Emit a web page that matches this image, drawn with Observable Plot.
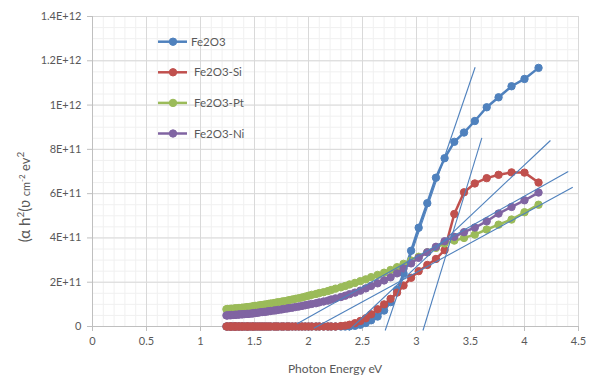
<!DOCTYPE html>
<html><head><meta charset="utf-8">
<script src="https://cdn.jsdelivr.net/npm/d3@7"></script>
<script src="https://cdn.jsdelivr.net/npm/@observablehq/plot@0.6"></script>
<style>
body{margin:0;background:#fff;}
#chart svg{display:block;}
</style>
</head><body><div id="chart"></div>
<script>
// Photon energy (eV) of each measured point
const energy = [4.13,4.00,3.88,3.76,3.65,3.54,3.44,3.35,3.26,3.18,3.10,3.02,2.95,2.88,2.82,2.76,2.70,2.64,2.58,2.53,2.48,2.43,2.38,2.34,2.30,2.25,2.21,2.18,2.14,2.10,2.07,2.03,2.00,1.97,1.94,1.91,1.88,1.85,1.82,1.80,1.77,1.75,1.72,1.70,1.68,1.65,1.63,1.61,1.59,1.57,1.55,1.53,1.51,1.49,1.48,1.46,1.44,1.43,1.41,1.39,1.38,1.36,1.35,1.33,1.32,1.31,1.29,1.28,1.27,1.25,1.24];
// Series values in units of 1E+12
const UNIT = 1e12;
const fe2o3 = [1.168,1.118,1.085,1.035,0.99,0.928,0.876,0.834,0.76,0.672,0.557,0.446,0.342,0.24,0.165,0.11,0.072,0.045,0.028,0.016,0.008,0.003,0.001,0,0,0,0,0,0,0,0,0,0,0,0,0,0,0,0,0,0,0,0,0,0,0,0,0,0,0,0,0,0,0,0,0,0,0,0,0,0,0,0,0,0,0,0,0,0,0,0];
const fe2o3Si = [0.65,0.695,0.696,0.685,0.67,0.646,0.606,0.508,0.345,0.305,0.278,0.25,0.22,0.185,0.153,0.125,0.1,0.078,0.055,0.037,0.025,0.015,0.008,0.004,0.002,0,0,0,0,0,0,0,0,0,0,0,0,0,0,0,0,0,0,0,0,0,0,0,0,0,0,0,0,0,0,0,0,0,0,0,0,0,0,0,0,0,0,0,0,0,0];
const fe2o3Pt = [0.55,0.516,0.483,0.46,0.438,0.415,0.40,0.388,0.375,0.355,0.335,0.315,0.298,0.283,0.268,0.255,0.243,0.233,0.223,0.213,0.205,0.197,0.19,0.183,0.177,0.171,0.165,0.160,0.155,0.151,0.147,0.143,0.139,0.135,0.131,0.128,0.125,0.122,0.119,0.116,0.114,0.112,0.110,0.108,0.106,0.104,0.102,0.100,0.099,0.097,0.096,0.094,0.093,0.092,0.090,0.089,0.088,0.087,0.086,0.085,0.084,0.083,0.083,0.082,0.081,0.081,0.080,0.080,0.079,0.079,0.078];
const fe2o3Ni = [0.605,0.57,0.54,0.51,0.475,0.447,0.426,0.405,0.385,0.36,0.335,0.31,0.285,0.262,0.24,0.222,0.208,0.195,0.183,0.172,0.162,0.153,0.146,0.139,0.133,0.127,0.122,0.117,0.113,0.109,0.105,0.102,0.099,0.096,0.093,0.090,0.088,0.085,0.083,0.081,0.079,0.077,0.075,0.073,0.072,0.070,0.069,0.067,0.066,0.065,0.064,0.062,0.061,0.060,0.059,0.058,0.057,0.057,0.056,0.055,0.055,0.054,0.054,0.053,0.053,0.052,0.052,0.051,0.051,0.050,0.050];
const seriesNames = ["Fe2O3","Fe2O3-Si","Fe2O3-Pt","Fe2O3-Ni"];
const seriesColors = ["#4F81BD","#C0504D","#9BBB59","#8064A2"];
// Tangent (Tauc extrapolation) lines: endpoints in data units (y in 1E+12)
const tangentX1 = [2.71, 3.06, 2.373, 1.895, 2.05];
const tangentY1 = [-0.018, -0.018, -0.018, 0.012, -0.008];
const tangentX2 = [3.543, 3.605, 4.24, 4.405, 4.447];
const tangentY2 = [1.171, 0.852, 0.84, 0.70, 0.629];
// Axes
const xTicks = [0,0.5,1,1.5,2,2.5,3,3.5,4,4.5];
const xTickLabels = ["0","0.5","1","1.5","2","2.5","3","3.5","4","4.5"];
const yTicks = [0,2e11,4e11,6e11,8e11,1e12,1.2e12,1.4e12];
const yTickLabels = ["0","2E+11","4E+11","6E+11","8E+11","1E+12","1.2E+12","1.4E+12"];
const xTitle = "Photon Energy eV";

const allSeries = [fe2o3, fe2o3Si, fe2o3Pt, fe2o3Ni];
const tables = allSeries.map((vals, s) => vals.map((v, i) => ({x: energy[i], y: v * UNIT, series: seriesNames[s]})));
const tangents = tangentX1.map((_, i) => ({x1: tangentX1[i], y1: tangentY1[i] * UNIT, x2: tangentX2[i], y2: tangentY2[i] * UNIT}));

const minorX = d3.range(0, 45.5, 1).map(d => d / 10);
const minorY = d3.range(0, 28.5, 1).map(d => d * 5e10);

const seriesMarks = tables.flatMap((t, s) => [
  Plot.line(t, {x: "x", y: "y", stroke: seriesColors[s], strokeWidth: 2.5}),
  Plot.dot(t, {x: "x", y: "y", r: 3.7, fill: seriesColors[s], stroke: seriesColors[s], strokeWidth: 1})
]);

const FONT = "Lato, 'Open Sans', sans-serif";
const chart = Plot.plot({
  width: 603, height: 378,
  marginLeft: 92, marginRight: 25, marginTop: 16, marginBottom: 52,
  x: {domain: [0, 4.5]},
  y: {domain: [0, 1.4e12]},
  style: {fontFamily: FONT, fontSize: "11px", color: "#595959", background: "#fff", overflow: "visible"},
  marks: [
    Plot.ruleX(minorX, {stroke: "#f0f0f0", strokeWidth: 1}),
    Plot.ruleY(minorY, {stroke: "#f0f0f0", strokeWidth: 1}),
    Plot.ruleX(xTicks, {stroke: "#d9d9d9", strokeWidth: 1}),
    Plot.ruleY(yTicks, {stroke: "#d9d9d9", strokeWidth: 1}),
    Plot.axisX({ticks: xTicks, tickFormat: d => xTickLabels[xTicks.indexOf(d)], tickSize: 5, tickPadding: 6, stroke: "#bfbfbf", strokeOpacity: 1, label: null, fill: "#595959"}),
    Plot.axisY({ticks: yTicks, tickFormat: d => yTickLabels[yTicks.indexOf(d)], tickSize: 5, tickPadding: 6, stroke: "#bfbfbf", strokeOpacity: 1, label: null, fill: "#595959"}),
    Plot.ruleX([0], {stroke: "#bfbfbf"}),
    Plot.ruleY([0], {stroke: "#bfbfbf"}),
    ...seriesMarks,
    Plot.link(tangents, {x1: "x1", y1: "y1", x2: "x2", y2: "y2", stroke: "#4F81BD", strokeWidth: 1.1})
  ]
});
document.getElementById("chart").append(chart);

const svg = d3.select(chart);
// Legend (inside plot area, upper-left)
const lg = svg.append("g").attr("font-family", FONT).attr("font-size", 11.5).attr("fill", "#595959").attr("text-anchor", "start");
seriesNames.forEach((name, i) => {
  const yy = 41.7 + i * 30.6;
  lg.append("line").attr("x1", 158).attr("x2", 187).attr("y1", yy).attr("y2", yy).attr("stroke", seriesColors[i]).attr("stroke-width", 2.5);
  lg.append("circle").attr("cx", 173).attr("cy", yy).attr("r", 3.7).attr("fill", seriesColors[i]).attr("stroke", seriesColors[i]);
  lg.append("text").attr("x", i === 0 ? 191 : 194).attr("y", yy).attr("dy", "0.35em").attr("text-anchor", "start").text(name);
});
// X title
svg.append("text").attr("x", 335).attr("y", 369).attr("dy", "0.35em").attr("text-anchor", "middle")
  .attr("font-family", FONT).attr("font-size", 12).attr("fill", "#595959").text(xTitle);
// Y title
const yt = svg.append("text").attr("transform", "translate(30,197) rotate(-90)").attr("text-anchor", "middle")
  .attr("font-family", FONT).attr("fill", "#595959");
yt.append("tspan").attr("font-size", 15).text("(α h");
yt.append("tspan").attr("font-size", 10).attr("dy", -6).text("2");
yt.append("tspan").attr("font-size", 15).attr("dy", 6).text("(ʋ ");
yt.append("tspan").attr("font-size", 11).text("cm");
yt.append("tspan").attr("font-size", 8).attr("dy", -5).text("-2");
yt.append("tspan").attr("font-size", 13).attr("dy", 5).text(" ev");
yt.append("tspan").attr("font-size", 10).attr("dy", -6).text("2");
</script>
</body></html>
